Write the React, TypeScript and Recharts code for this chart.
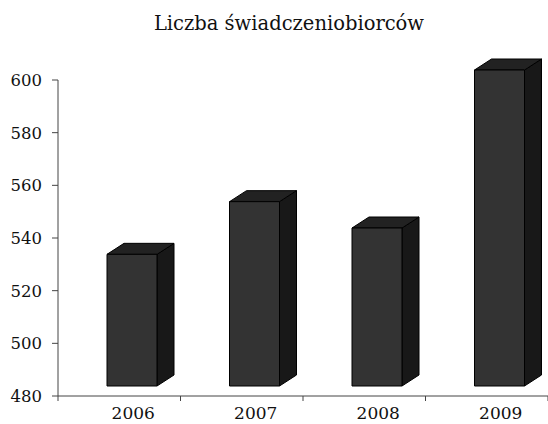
import { BarChart, Bar, XAxis, YAxis } from "recharts"

const years = ["2006", "2007", "2008", "2009"]
const beneficiaries = [530, 550, 540, 600]
const yTicks = [480, 500, 520, 540, 560, 580, 600]

const data = years.map((year, i) => ({ year, value: beneficiaries[i] }))

const W = 548
const H = 424
const PLOT_LEFT = 58
const BAND = (W - PLOT_LEFT) / years.length
const FONT = "'DejaVu Serif', serif"
const AXIS = "#444"

// pseudo-3D column: front face lifted, top + side faces drawn with depth
function Column3D(props: any) {
  const { x, y, height } = props
  const fw = 50
  const fx = x + 13
  const fy = y - 10
  const fh = height
  const dx = 17
  const dy = 11
  const top = `${fx},${fy} ${fx + dx},${fy - dy} ${fx + fw + dx},${fy - dy} ${fx + fw},${fy}`
  const side = `${fx + fw},${fy} ${fx + fw + dx},${fy - dy} ${fx + fw + dx},${fy + fh - dy} ${fx + fw},${fy + fh}`
  return (
    <g stroke="#000" strokeWidth={1} strokeLinejoin="round">
      <polygon points={side} fill="#181818" />
      <polygon points={top} fill="#222222" />
      <rect x={fx} y={fy} width={fw} height={fh} fill="#333333" />
    </g>
  )
}

function YearTick(props: any) {
  const { x, y, payload } = props
  return (
    <g>
      <line x1={x + BAND / 2} y1={y} x2={x + BAND / 2} y2={y + 5} stroke={AXIS} />
      {payload.index === 0 && (
        <line x1={x - BAND / 2} y1={y} x2={x - BAND / 2} y2={y + 5} stroke={AXIS} />
      )}
      <text x={x + 14} y={y + 23} textAnchor="middle" fontSize={17} fontFamily={FONT} fill="#111">
        {payload.value}
      </text>
    </g>
  )
}

export default function App() {
  return (
    <div style={{ position: "absolute", left: 0, top: 0, width: W, height: H, background: "#fff" }}>
      <div
        style={{
          position: "absolute",
          left: 0,
          top: 12,
          width: W + 30,
          textAlign: "center",
          fontFamily: FONT,
          fontSize: 19.5,
          lineHeight: "24px",
          color: "#111",
        }}
      >
        Liczba świadczeniobiorców
      </div>
      <BarChart
        width={W}
        height={H}
        data={data}
        margin={{ top: 80, right: 0, bottom: 0, left: 8 }}
        style={{ position: "absolute", left: 0, top: 0 }}
      >
        <XAxis
          dataKey="year"
          height={28}
          axisLine={{ stroke: AXIS }}
          tickLine={false}
          tickSize={0}
          tickMargin={0}
          tick={<YearTick />}
          interval={0}
        />
        <YAxis
          width={50}
          domain={[480, 600]}
          ticks={yTicks}
          interval={0}
          axisLine={{ stroke: AXIS }}
          tickLine={{ stroke: AXIS }}
          tickSize={6}
          tickMargin={10}
          tick={{ fontSize: 16.5, fontFamily: FONT, fill: "#111" }}
        />
        <Bar dataKey="value" barSize={50} shape={<Column3D />} isAnimationActive={false} />
      </BarChart>
    </div>
  )
}
